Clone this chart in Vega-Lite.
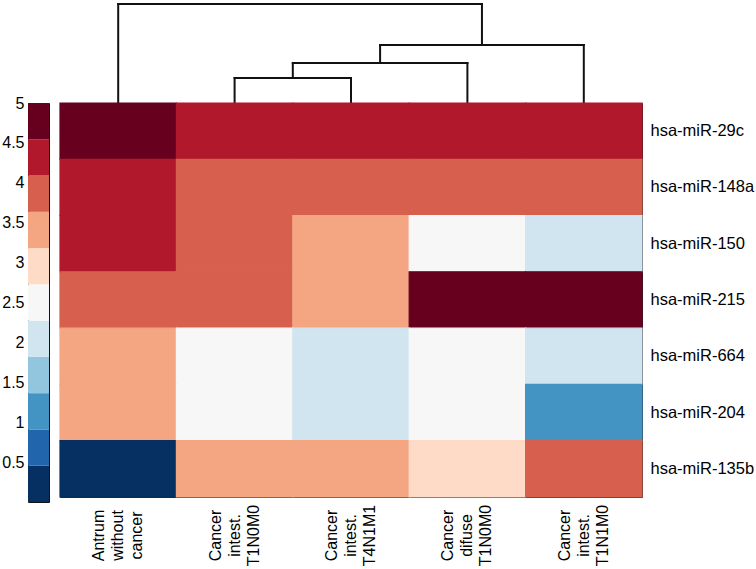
{
  "$schema": "https://vega.github.io/schema/vega-lite/v6.json",
  "padding": {"left": 1, "top": 2, "right": 0, "bottom": 0},
  "background": "white",
  "config": {"font": "Liberation Sans", "view": {"stroke": null}},
  "datasets": {
    "bins": [
      {"lo": 0.0, "hi": 0.4545, "mid": 0.227},
      {"lo": 0.4545, "hi": 0.909, "mid": 0.682},
      {"lo": 0.909, "hi": 1.3636, "mid": 1.136},
      {"lo": 1.3636, "hi": 1.818, "mid": 1.591},
      {"lo": 1.818, "hi": 2.2727, "mid": 2.045},
      {"lo": 2.2727, "hi": 2.7273, "mid": 2.5},
      {"lo": 2.7273, "hi": 3.1818, "mid": 2.955},
      {"lo": 3.1818, "hi": 3.6364, "mid": 3.409},
      {"lo": 3.6364, "hi": 4.0909, "mid": 3.864},
      {"lo": 4.0909, "hi": 4.5455, "mid": 4.318},
      {"lo": 4.5455, "hi": 5.0, "mid": 4.773}
    ],
    "links": [
      {"x": 0.5, "x2": 0.5, "y": 0, "y2": 99},
      {"x": 0.5, "x2": 3.625, "y": 99, "y2": 99},
      {"x": 3.625, "x2": 3.625, "y": 58, "y2": 99},
      {"x": 2.75, "x2": 4.5, "y": 58, "y2": 58},
      {"x": 4.5, "x2": 4.5, "y": 0, "y2": 58},
      {"x": 2.75, "x2": 2.75, "y": 40, "y2": 58},
      {"x": 2.0, "x2": 3.5, "y": 40, "y2": 40},
      {"x": 3.5, "x2": 3.5, "y": 0, "y2": 40},
      {"x": 2.0, "x2": 2.0, "y": 25, "y2": 40},
      {"x": 1.5, "x2": 2.5, "y": 25, "y2": 25},
      {"x": 1.5, "x2": 1.5, "y": 0, "y2": 25},
      {"x": 2.5, "x2": 2.5, "y": 0, "y2": 25}
    ],
    "cells": [
      {"sample": "Antrum|without|cancer", "mirna": "hsa-miR-29c", "value": 4.8},
      {"sample": "Cancer|intest.|T1N0M0", "mirna": "hsa-miR-29c", "value": 4.3},
      {"sample": "Cancer|intest.|T4N1M1", "mirna": "hsa-miR-29c", "value": 4.3},
      {"sample": "Cancer|difuse|T1N0M0", "mirna": "hsa-miR-29c", "value": 4.3},
      {"sample": "Cancer|intest.|T1N1M0", "mirna": "hsa-miR-29c", "value": 4.3},
      {"sample": "Antrum|without|cancer", "mirna": "hsa-miR-148a", "value": 4.3},
      {"sample": "Cancer|intest.|T1N0M0", "mirna": "hsa-miR-148a", "value": 3.9},
      {"sample": "Cancer|intest.|T4N1M1", "mirna": "hsa-miR-148a", "value": 3.9},
      {"sample": "Cancer|difuse|T1N0M0", "mirna": "hsa-miR-148a", "value": 3.9},
      {"sample": "Cancer|intest.|T1N1M0", "mirna": "hsa-miR-148a", "value": 3.9},
      {"sample": "Antrum|without|cancer", "mirna": "hsa-miR-150", "value": 4.3},
      {"sample": "Cancer|intest.|T1N0M0", "mirna": "hsa-miR-150", "value": 3.9},
      {"sample": "Cancer|intest.|T4N1M1", "mirna": "hsa-miR-150", "value": 3.4},
      {"sample": "Cancer|difuse|T1N0M0", "mirna": "hsa-miR-150", "value": 2.5},
      {"sample": "Cancer|intest.|T1N1M0", "mirna": "hsa-miR-150", "value": 2.0},
      {"sample": "Antrum|without|cancer", "mirna": "hsa-miR-215", "value": 3.9},
      {"sample": "Cancer|intest.|T1N0M0", "mirna": "hsa-miR-215", "value": 3.9},
      {"sample": "Cancer|intest.|T4N1M1", "mirna": "hsa-miR-215", "value": 3.4},
      {"sample": "Cancer|difuse|T1N0M0", "mirna": "hsa-miR-215", "value": 4.8},
      {"sample": "Cancer|intest.|T1N1M0", "mirna": "hsa-miR-215", "value": 4.8},
      {"sample": "Antrum|without|cancer", "mirna": "hsa-miR-664", "value": 3.4},
      {"sample": "Cancer|intest.|T1N0M0", "mirna": "hsa-miR-664", "value": 2.5},
      {"sample": "Cancer|intest.|T4N1M1", "mirna": "hsa-miR-664", "value": 2.0},
      {"sample": "Cancer|difuse|T1N0M0", "mirna": "hsa-miR-664", "value": 2.5},
      {"sample": "Cancer|intest.|T1N1M0", "mirna": "hsa-miR-664", "value": 2.0},
      {"sample": "Antrum|without|cancer", "mirna": "hsa-miR-204", "value": 3.4},
      {"sample": "Cancer|intest.|T1N0M0", "mirna": "hsa-miR-204", "value": 2.5},
      {"sample": "Cancer|intest.|T4N1M1", "mirna": "hsa-miR-204", "value": 2.0},
      {"sample": "Cancer|difuse|T1N0M0", "mirna": "hsa-miR-204", "value": 2.5},
      {"sample": "Cancer|intest.|T1N1M0", "mirna": "hsa-miR-204", "value": 1.1},
      {"sample": "Antrum|without|cancer", "mirna": "hsa-miR-135b", "value": 0.2},
      {"sample": "Cancer|intest.|T1N0M0", "mirna": "hsa-miR-135b", "value": 3.4},
      {"sample": "Cancer|intest.|T4N1M1", "mirna": "hsa-miR-135b", "value": 3.4},
      {"sample": "Cancer|difuse|T1N0M0", "mirna": "hsa-miR-135b", "value": 2.9},
      {"sample": "Cancer|intest.|T1N1M0", "mirna": "hsa-miR-135b", "value": 3.9}
    ]
  },
  "columns": 2,
  "spacing": {"row": 0, "column": 11},
  "bounds": "flush",
  "concat": [
    {
      "width": 21,
      "height": 99,
      "data": {"name": "bins"},
      "mark": {"type": "text", "text": ""},
      "encoding": {}
    },
    {
      "width": 582,
      "height": 99,
      "data": {"name": "links"},
      "mark": {"type": "rule", "color": "#111", "strokeWidth": 2, "strokeCap": "square"},
      "encoding": {
        "x": {"field": "x", "type": "quantitative", "scale": {"domain": [0, 5], "nice": false, "zero": false}, "axis": null},
        "x2": {"field": "x2"},
        "y": {"field": "y", "type": "quantitative", "scale": {"domain": [0, 99], "nice": false, "zero": false}, "axis": null},
        "y2": {"field": "y2"}
      }
    },
    {
      "width": 21,
      "height": 399,
      "data": {"name": "bins"},
      "view": {"stroke": "#111", "strokeWidth": 1},
      "mark": {"type": "rect"},
      "encoding": {
        "y": {"field": "lo", "type": "quantitative",
              "scale": {"domain": [0, 5], "nice": false, "zero": false},
              "axis": {"orient": "left", "title": null, "values": [0.5, 1, 1.5, 2, 2.5, 3, 3.5, 4, 4.5, 5],
                       "format": "~g", "domain": false, "grid": false, "tickSize": -4, "tickColor": "#222",
                       "labelPadding": 8, "labelFontSize": 16, "labelColor": "#000", "labelFont": "Liberation Sans"}},
        "y2": {"field": "hi"},
        "color": {"field": "mid", "type": "quantitative",
                  "scale": {"type": "quantize", "domain": [0, 5],
                            "range": ["#053061", "#2166ac", "#4393c3", "#92c5de", "#d1e5f0", "#f7f7f7", "#fddbc7", "#f4a582", "#d6604d", "#b2182b", "#67001f"]},
                  "legend": null}
      }
    },
    {
      "width": 582,
      "height": 394,
      "data": {"name": "cells"},
      "view": {"stroke": "#222", "strokeWidth": 1},
      "mark": {"type": "rect", "strokeWidth": 1.2},
      "encoding": {
        "x": {"field": "sample", "type": "nominal",
              "sort": ["Antrum|without|cancer", "Cancer|intest.|T1N0M0", "Cancer|intest.|T4N1M1", "Cancer|difuse|T1N0M0", "Cancer|intest.|T1N1M0"],
              "scale": {"paddingInner": 0, "paddingOuter": 0},
              "axis": {"orient": "bottom", "title": null, "ticks": false, "domain": false, "labelAngle": 270,
                       "labelAlign": "center", "labelBaseline": "middle", "labelPadding": 38, "labelOffset": -19,
                       "labelExpr": "split(datum.label, '|')", "labelLineHeight": 19,
                       "labelFontSize": 16, "labelColor": "#000", "labelFont": "Liberation Sans"}},
        "y": {"field": "mirna", "type": "nominal",
              "sort": ["hsa-miR-29c", "hsa-miR-148a", "hsa-miR-150", "hsa-miR-215", "hsa-miR-664", "hsa-miR-204", "hsa-miR-135b"],
              "scale": {"paddingInner": 0, "paddingOuter": 0},
              "axis": {"orient": "right", "title": null, "ticks": false, "domain": false, "labelPadding": 8,
                       "labelFontSize": 16.5, "labelColor": "#000", "labelFont": "Liberation Sans"}},
        "color": {"field": "value", "type": "quantitative",
                  "scale": {"type": "quantize", "domain": [0, 5],
                            "range": ["#053061", "#2166ac", "#4393c3", "#92c5de", "#d1e5f0", "#f7f7f7", "#fddbc7", "#f4a582", "#d6604d", "#b2182b", "#67001f"]},
                  "legend": null},
        "stroke": {"field": "value", "type": "quantitative",
                  "scale": {"type": "quantize", "domain": [0, 5],
                            "range": ["#053061", "#2166ac", "#4393c3", "#92c5de", "#d1e5f0", "#f7f7f7", "#fddbc7", "#f4a582", "#d6604d", "#b2182b", "#67001f"]},
                  "legend": null}
      }
    }
  ],
  "resolve": {"scale": {"color": "independent", "stroke": "independent"}}
}
